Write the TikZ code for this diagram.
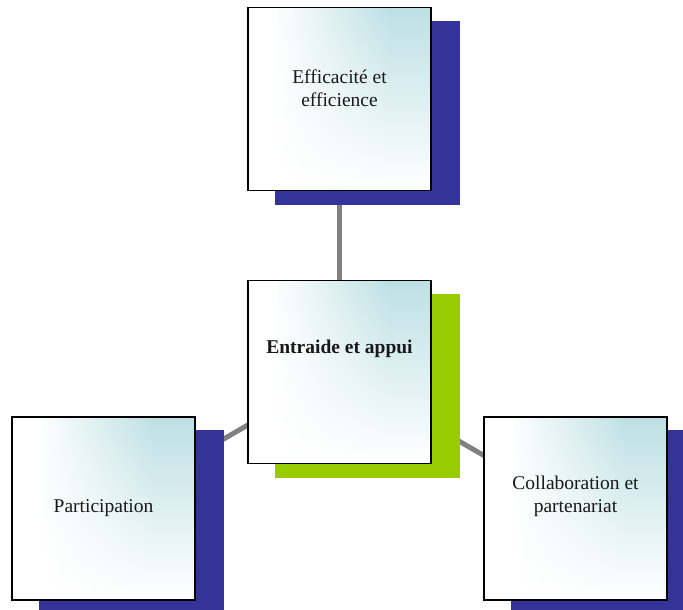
\documentclass[tikz,border=0pt]{standalone}
\usepackage{fontspec}
\setmainfont{Liberation Serif}

\definecolor{boxteal}{RGB}{189,224,227}
\definecolor{shadowblue}{RGB}{51,51,153}
\definecolor{shadowgreen}{RGB}{153,204,0}
\definecolor{linkgrey}{RGB}{128,128,128}

\pgfdeclarelayer{links}
\pgfdeclarelayer{drop}
\pgfsetlayers{links,drop,main}

\tikzset{
  card/.style={draw=black, line width=1.5pt, minimum width=183pt, minimum height=183pt, inner sep=0pt,
    path picture={
      % vertical bands: each fades from a teal tint at the top to white at the
      % bottom; the tint grows from nothing on the left to full on the right
      \foreach \k in {0,...,36} {
        \pgfmathsetmacro{\frac}{(\k*5+2.5)/183}
        \pgfmathsetmacro{\tint}{100*min(1,max(0,(\frac-0.14)/0.64))}
        \pgfmathsetmacro{\half}{0.62*\tint}
        \shade[top color=boxteal!\tint!white, middle color=boxteal!\half!white, bottom color=white]
          ([xshift=\k*5pt]path picture bounding box.south west) rectangle ([xshift=\k*5pt+5.6pt]path picture bounding box.north west);
      }
    }},
  cardtext/.style={font=\fontsize{19.5}{23}\selectfont, align=center, text=black!90, inner sep=0pt},
  link/.style={draw=linkgrey, line width=5pt},
}

\begin{document}
\begin{tikzpicture}[x=1pt, y=-1pt]
  \useasboundingbox (0,0) rectangle (683,610);
  \clip (0,0) rectangle (683,610);

  % the four cards
  \node[card] (top)   at (339.5, 99)   {};
  \node[card] (mid)   at (339.5, 372)  {};
  \node[card] (left)  at (103.5, 508.5) {};
  \node[card] (right) at (575.5, 508.5) {};

  % card captions
  \node[cardtext] (ttop)   at ([yshift=10.5pt]top.center)  {Efficacité et\\efficience};
  \node[cardtext] (tmid)   at ([yshift=23pt]mid.center)    {\textbf{Entraide et appui}};
  \node[cardtext] (tleft)  at (left.center)                {Participation};
  \node[cardtext] (tright) at ([yshift=12pt]right.center)  {Collaboration et\\partenariat};

  % offset drop shadows behind the cards
  \begin{pgfonlayer}{drop}
    \fill[shadowblue]  ([shift={(28pt,-14pt)}]top.south west)   rectangle ([shift={(28pt,-14pt)}]top.north east);
    \fill[shadowgreen] ([shift={(28pt,-14pt)}]mid.south west)   rectangle ([shift={(28pt,-14pt)}]mid.north east);
    \fill[shadowblue]  ([shift={(28pt,-14pt)}]left.south west)  rectangle ([shift={(28pt,-14pt)}]left.north east);
    \fill[shadowblue]  ([shift={(28pt,-14pt)}]right.south west) rectangle ([shift={(28pt,-14pt)}]right.north east);
  \end{pgfonlayer}

  % grey links from the centre card to the others
  \begin{pgfonlayer}{links}
    \draw[link] (mid.center) -- (top.center);
    \draw[link] (mid.center) -- (left.center);
    \draw[link] (mid.center) -- (right.center);
  \end{pgfonlayer}
\end{tikzpicture}
\end{document}
